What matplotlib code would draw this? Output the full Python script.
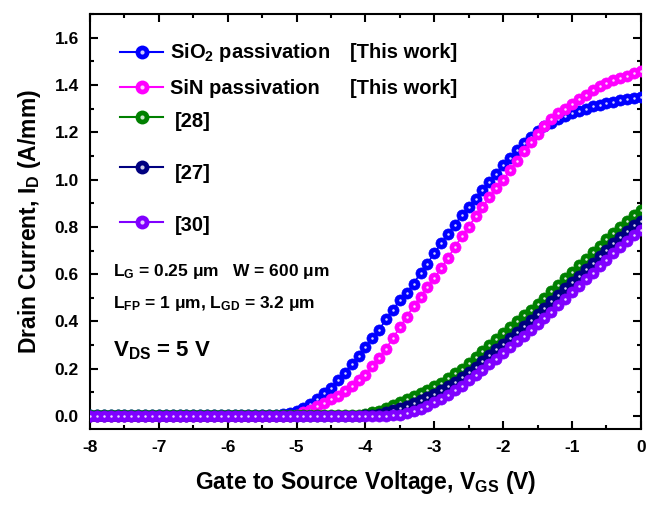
import numpy as np
import matplotlib.pyplot as plt
from matplotlib.ticker import MultipleLocator, FormatStrFormatter

plt.rcParams['font.family'] = ['Liberation Sans', 'DejaVu Sans']
plt.rcParams['font.weight'] = 'bold'
plt.rcParams['axes.labelweight'] = 'bold'
plt.rcParams['axes.unicode_minus'] = False
plt.rcParams['mathtext.fontset'] = 'custom'
plt.rcParams['mathtext.rm'] = 'Liberation Sans:bold'
plt.rcParams['mathtext.bf'] = 'Liberation Sans:bold'
plt.rcParams['mathtext.it'] = 'Liberation Sans:bold'
plt.rcParams['mathtext.default'] = 'rm'

# gate voltage sweep, 0.1 V steps
vgs = np.round(np.arange(-8.0, 0.05, 0.1), 1)

# drain current (A/mm)
sio2 = [0.003, 0.003, 0.003, 0.003, 0.003, 0.003, 0.003, 0.003, 0.003, 0.003,
        0.003, 0.003, 0.003, 0.003, 0.003, 0.003, 0.003, 0.003, 0.003, 0.003,
        0.003, 0.003, 0.003, 0.003, 0.003, 0.003, 0.003, 0.005, 0.008, 0.012,
        0.02, 0.035, 0.05, 0.07, 0.095, 0.12, 0.15, 0.18, 0.22, 0.255,
        0.29, 0.33, 0.365, 0.41, 0.45, 0.49, 0.52, 0.56, 0.605, 0.645,
        0.69, 0.73, 0.77, 0.81, 0.85, 0.885, 0.92, 0.955, 0.99, 1.025,
        1.06, 1.09, 1.125, 1.155, 1.18, 1.205, 1.225, 1.24, 1.255, 1.27,
        1.28, 1.29, 1.30, 1.31, 1.317, 1.323, 1.33, 1.335, 1.34, 1.345,
        1.35]
sin = [0.0, 0.0, 0.0, 0.0, 0.0, 0.0, 0.0, 0.0, 0.0, 0.0,
       0.0, 0.0, 0.0, 0.0, 0.0, 0.0, 0.0, 0.0, 0.0, 0.0,
       0.0, 0.0, 0.0, 0.0, 0.0, 0.0, 0.0, 0.0, 0.0, 0.0,
       0.005, 0.015, 0.027, 0.04, 0.055, 0.07, 0.085, 0.105, 0.125, 0.15,
       0.175, 0.21, 0.245, 0.285, 0.33, 0.375, 0.42, 0.465, 0.505, 0.545,
       0.585, 0.625, 0.67, 0.715, 0.76, 0.80, 0.845, 0.885, 0.925, 0.965,
       1.00, 1.04, 1.08, 1.12, 1.16, 1.195, 1.225, 1.255, 1.28, 1.30,
       1.32, 1.34, 1.36, 1.38, 1.395, 1.41, 1.42, 1.43, 1.44, 1.45,
       1.46]
ref28 = [0.003, 0.003, 0.003, 0.003, 0.003, 0.003, 0.003, 0.003, 0.003, 0.003,
         0.003, 0.003, 0.003, 0.003, 0.003, 0.003, 0.003, 0.003, 0.003, 0.003,
         0.003, 0.003, 0.003, 0.003, 0.003, 0.003, 0.003, 0.003, 0.003, 0.003,
         0.003, 0.003, 0.003, 0.003, 0.003, 0.003, 0.003, 0.003, 0.003, 0.003,
         0.008, 0.015, 0.022, 0.033, 0.045, 0.057, 0.07, 0.083, 0.097, 0.11,
         0.125, 0.14, 0.16, 0.18, 0.20, 0.225, 0.25, 0.275, 0.30, 0.325,
         0.35, 0.375, 0.40, 0.425, 0.45, 0.475, 0.50, 0.53, 0.555, 0.585,
         0.61, 0.64, 0.665, 0.695, 0.72, 0.75, 0.775, 0.80, 0.825, 0.85,
         0.87]
ref27 = [0.0, 0.0, 0.0, 0.0, 0.0, 0.0, 0.0, 0.0, 0.0, 0.0,
         0.0, 0.0, 0.0, 0.0, 0.0, 0.0, 0.0, 0.0, 0.0, 0.0,
         0.0, 0.0, 0.0, 0.0, 0.0, 0.0, 0.0, 0.0, 0.0, 0.0,
         0.0, 0.0, 0.0, 0.0, 0.0, 0.0, 0.0, 0.0, 0.0, 0.0,
         0.002, 0.005, 0.01, 0.017, 0.025, 0.033, 0.043, 0.054, 0.066, 0.079,
         0.093, 0.108, 0.125, 0.144, 0.164, 0.186, 0.209, 0.233, 0.257, 0.282,
         0.306, 0.331, 0.356, 0.381, 0.406, 0.432, 0.457, 0.485, 0.51, 0.54,
         0.566, 0.594, 0.621, 0.649, 0.676, 0.704, 0.731, 0.757, 0.782, 0.806,
         0.826]
ref30 = [0.0, 0.0, 0.0, 0.0, 0.0, 0.0, 0.0, 0.0, 0.0, 0.0,
         0.0, 0.0, 0.0, 0.0, 0.0, 0.0, 0.0, 0.0, 0.0, 0.0,
         0.0, 0.0, 0.0, 0.0, 0.0, 0.0, 0.0, 0.0, 0.0, 0.0,
         0.0, 0.0, 0.0, 0.0, 0.0, 0.0, 0.0, 0.0, 0.0, 0.0,
         0.0, 0.0, 0.0, 0.0, 0.003, 0.006, 0.012, 0.02, 0.03, 0.042,
         0.057, 0.072, 0.09, 0.108, 0.128, 0.15, 0.172, 0.195, 0.218, 0.242,
         0.265, 0.29, 0.315, 0.34, 0.365, 0.39, 0.415, 0.44, 0.47, 0.495,
         0.525, 0.55, 0.58, 0.605, 0.635, 0.66, 0.69, 0.715, 0.74, 0.765,
         0.785]

labels = ['SiO$_2$ passivation', 'SiN passivation', '[28]', '[27]', '[30]']
colors = ['#0000ff', '#ff00ff', '#008000', '#000080', '#8000ff']
series = [sio2, sin, ref28, ref27, ref30]

fig = plt.figure(figsize=(6.62, 5.07), dpi=100)
ax = fig.add_axes([0.136, 0.154, 0.832, 0.818])

for i, (y, c) in enumerate(zip(series, colors)):
    ax.plot(vgs, y, '-o', color=c, ms=8, mew=0.5, lw=1.2, zorder=3 + i)
    ax.plot(vgs, y, 'o', color='white', ms=1.8, mew=0, lw=0, alpha=0.85, zorder=3 + i)

# hand-placed legend to match the uneven spacing of the original
leg_marker_y = [0.909, 0.825, 0.752, 0.632, 0.4995]
leg_text_y = [0.895, 0.808, 0.728, 0.603, 0.4775]
leg_text_x = [0.145, 0.145, 0.154, 0.154, 0.154]
for lab, c, my, ty, tx in zip(labels, colors, leg_marker_y, leg_text_y, leg_text_x):
    ax.plot([0.054, 0.132], [my, my], color=c, lw=1.5, transform=ax.transAxes, zorder=10)
    ax.plot([0.094], [my], 'o', color=c, ms=10, mew=0, transform=ax.transAxes, zorder=10)
    ax.plot([0.094], [my], 'o', color='white', ms=3, mew=0, alpha=0.8, transform=ax.transAxes, zorder=11)
    ax.text(tx, ty, lab, fontsize=14.5, va='baseline', transform=ax.transAxes)
ax.text(0.472, leg_text_y[0], '[This work]', fontsize=14.5, va='baseline', transform=ax.transAxes)
ax.text(0.472, leg_text_y[1], '[This work]', fontsize=14.5, va='baseline', transform=ax.transAxes)

ax.text(0.042, 0.369, 'L$_G$ = 0.25 μm   W = 600 μm', fontsize=12.5, va='baseline', transform=ax.transAxes)
ax.text(0.042, 0.2916, 'L$_{FP}$ = 1 μm, L$_{GD}$ = 3.2 μm', fontsize=12.5, va='baseline', transform=ax.transAxes)
ax.text(0.042, 0.174, 'V$_{DS}$ = 5 V', fontsize=16, va='baseline', transform=ax.transAxes)

ax.set_xlim(-8, 0)
ax.set_ylim(-0.055, 1.70)
ax.xaxis.set_major_locator(MultipleLocator(1))
ax.xaxis.set_minor_locator(MultipleLocator(0.5))
ax.yaxis.set_major_locator(MultipleLocator(0.2))
ax.yaxis.set_minor_locator(MultipleLocator(0.1))
ax.yaxis.set_major_formatter(FormatStrFormatter('%.1f'))
ax.tick_params(which='both', direction='in', top=True, right=True, width=1.5, labelsize=12.5, pad=8)
ax.tick_params(which='major', length=6)
ax.tick_params(which='minor', length=3)
for lbl in ax.get_xticklabels() + ax.get_yticklabels():
    lbl.set_fontweight('bold')
for s in ax.spines.values():
    s.set_linewidth(1.5)

ax.set_xlabel('Gate to Source Voltage, V$_{GS}$ (V)', fontsize=16.5, fontweight='bold', labelpad=10)
ax.set_ylabel('Drain Current, I$_D$ (A/mm)', fontsize=16.5, fontweight='bold', labelpad=8)

fig.savefig('out.png', dpi=100)
